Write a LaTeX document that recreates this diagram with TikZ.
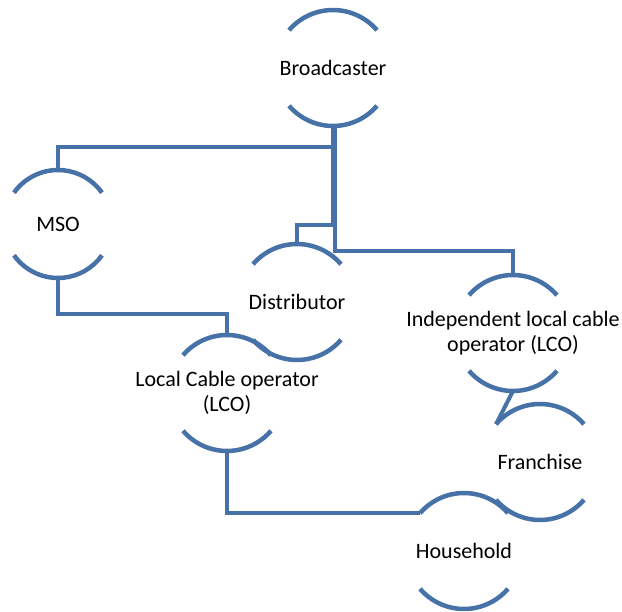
\documentclass[tikz,border=0pt]{standalone}
\usepackage{fontspec}
\setmainfont{Carlito}
\definecolor{linkblue}{HTML}{4672A8}
\tikzset{
  arcline/.style={draw=linkblue, line width=4.5pt},
  conn/.style={draw=linkblue, line width=4pt},
  lbl/.style={font=\fontsize{22}{25}\selectfont, text=black, align=center, inner sep=0pt}
}
\newcommand{\arcpair}[2]{%
  \pgfmathsetmacro\aang{acos(44/#2)}%
  \draw[arcline] ([shift={(180-\aang:#2pt)}]#1.center) arc[start angle=180-\aang, end angle=\aang, radius=#2pt];
  \draw[arcline] ([shift={(180+\aang:#2pt)}]#1.center) arc[start angle=180+\aang, end angle=360-\aang, radius=#2pt];
  \coordinate (#1-t) at ([yshift=#2pt]#1.center);
  \coordinate (#1-b) at ([yshift=-#2pt]#1.center);
  \coordinate (#1-l) at ([shift={(180-\aang:#2pt)}]#1.center);
}
\begin{document}
\begin{tikzpicture}[x=1pt,y=-1pt]
\useasboundingbox (0,0) rectangle (622,612);
\node[lbl] (bc) at (333,68) {Broadcaster};
\node[lbl] (mso) at (58,224) {MSO};
\node[lbl] (dist) at (297,302) {Distributor};
\node[lbl] (lco) at (227,393) {Local Cable operator\\(LCO)};
\node[lbl] (ilco) at (513,333) {Independent local cable\\operator (LCO)};
\node[lbl] (fr) at (540,462) {Franchise};
\node[lbl] (hh) at (464,551) {Household};
\arcpair{bc}{58}
\arcpair{mso}{54}
\arcpair{dist}{58}
\arcpair{lco}{58}
\arcpair{ilco}{58}
\arcpair{fr}{58}
\arcpair{hh}{58}
\draw[conn] (bc-b) -- ++(0,21) -| (mso-t);
\draw[conn] ([xshift=2pt]bc-b) -- ++(0,125) -| (ilco-t);
\draw[conn] (dist-t) -- ++(0,-19) -| (bc-b);
\draw[conn] (mso-b) -- ++(0,36) -| (lco-t);
\draw[conn] (lco-b) |- (hh-l);
\draw[conn] (ilco-b) -- (fr-l);
\end{tikzpicture}
\end{document}
